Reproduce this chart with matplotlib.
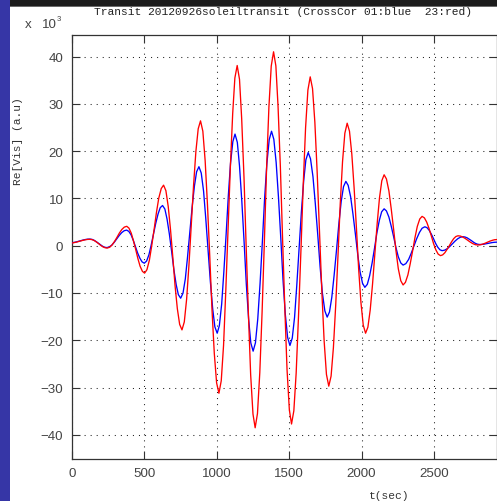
import matplotlib
matplotlib.use("Agg")
import matplotlib.pyplot as plt
from matplotlib.patches import Rectangle

# ---- data ----
t_red = [0, 16, 32, 47, 63, 79, 95, 110,
         126, 141, 156, 171, 186, 200, 215, 230,
         245, 262, 279, 296, 313, 329, 346, 363,
         380, 395, 411, 426, 442, 457, 472, 488,
         503, 519, 536, 552, 569, 585, 601, 618,
         634, 650, 666, 682, 698, 713, 729, 745,
         761, 777, 793, 809, 825, 841, 857, 873,
         889, 905, 921, 937, 953, 968, 984, 1000,
         1016, 1032, 1048, 1063, 1079, 1095, 1111, 1126,
         1142, 1158, 1173, 1189, 1204, 1220, 1235, 1251,
         1266, 1282, 1298, 1314, 1330, 1345, 1361, 1377,
         1393, 1409, 1424, 1440, 1455, 1471, 1486, 1502,
         1517, 1533, 1549, 1565, 1582, 1598, 1614, 1630,
         1646, 1662, 1678, 1694, 1710, 1726, 1742, 1758,
         1774, 1790, 1806, 1822, 1838, 1853, 1869, 1885,
         1901, 1917, 1933, 1949, 1965, 1980, 1996, 2012,
         2028, 2044, 2060, 2076, 2092, 2108, 2124, 2140,
         2156, 2172, 2189, 2205, 2222, 2238, 2254, 2271,
         2287, 2303, 2320, 2336, 2353, 2369, 2385, 2402,
         2418, 2434, 2450, 2466, 2482, 2497, 2513, 2529,
         2545, 2560, 2575, 2590, 2606, 2621, 2636, 2651,
         2666, 2683, 2700, 2717, 2734, 2751, 2768, 2785,
         2802, 2819, 2835, 2852, 2869, 2885, 2902, 2918,
         2935]
v_red = [0.55, 0.64, 0.75, 0.88, 1.02, 1.15, 1.26, 1.33,
         1.35, 1.28, 1.08, 0.78, 0.43, 0.07, -0.23, -0.43,
         -0.50, -0.33, 0.17, 0.92, 1.80, 2.68, 3.43, 3.93,
         4.10, 3.72, 2.65, 1.04, -0.85, -2.74, -4.35, -5.42,
         -5.80, -5.09, -3.08, -0.06, 3.50, 7.06, 10.08, 12.09,
         12.80, 11.64, 8.32, 3.36, -2.50, -8.36, -13.32, -16.64,
         -17.80, -16.12, -11.33, -4.16, 4.30, 12.76, 19.93, 24.72,
         26.40, 24.21, 17.96, 8.62, -2.40, -13.42, -22.76, -29.01,
         -31.20, -28.56, -21.05, -9.81, 3.45, 16.71, 27.95, 35.46,
         38.10, 35.19, 26.88, 14.46, -0.20, -14.86, -27.28, -35.59,
         -38.50, -35.48, -26.86, -13.96, 1.25, 16.46, 29.36, 37.98,
         41.00, 38.01, 29.47, 16.71, 1.65, -13.41, -26.17, -34.71,
         -37.70, -34.91, -26.95, -15.05, -1.00, 13.05, 24.95, 32.91,
         35.70, 33.21, 26.12, 15.51, 3.00, -9.51, -20.12, -27.21,
         -29.70, -27.58, -21.56, -12.54, -1.90, 8.74, 17.76, 23.78,
         25.90, 24.21, 19.40, 12.20, 3.70, -4.80, -12.00, -16.81,
         -18.50, -17.23, -13.59, -8.16, -1.75, 4.66, 10.09, 13.73,
         15.00, 14.11, 11.59, 7.81, 3.35, -1.11, -4.89, -7.41,
         -8.30, -7.75, -6.18, -3.83, -1.05, 1.73, 4.08, 5.65,
         6.20, 5.88, 4.98, 3.64, 2.05, 0.46, -0.88, -1.78,
         -2.10, -1.94, -1.49, -0.80, 0.00, 0.80, 1.49, 1.94,
         2.10, 2.03, 1.81, 1.50, 1.13, 0.75, 0.44, 0.22,
         0.15, 0.19, 0.32, 0.51, 0.73, 0.95, 1.13, 1.26,
         1.30]

t_blue = [0, 16, 32, 47, 63, 79, 95, 110,
          126, 141, 155, 170, 185, 199, 214, 228,
          243, 260, 277, 294, 311, 328, 345, 362,
          379, 394, 410, 425, 440, 455, 471, 486,
          501, 517, 533, 548, 564, 580, 596, 611,
          627, 643, 658, 674, 690, 705, 721, 736,
          752, 768, 784, 799, 815, 831, 847, 862,
          878, 894, 910, 925, 941, 957, 973, 988,
          1004, 1019, 1035, 1050, 1066, 1081, 1096, 1112,
          1127, 1143, 1158, 1174, 1190, 1205, 1221, 1236,
          1252, 1268, 1284, 1300, 1316, 1331, 1347, 1363,
          1379, 1395, 1411, 1427, 1443, 1458, 1474, 1490,
          1506, 1522, 1538, 1553, 1569, 1585, 1601, 1616,
          1632, 1648, 1665, 1681, 1698, 1714, 1730, 1747,
          1763, 1779, 1795, 1811, 1828, 1844, 1860, 1876,
          1892, 1908, 1925, 1941, 1958, 1974, 1990, 2007,
          2023, 2040, 2056, 2073, 2090, 2106, 2123, 2139,
          2156, 2172, 2189, 2205, 2222, 2238, 2254, 2271,
          2287, 2306, 2325, 2343, 2362, 2381, 2400, 2418,
          2437, 2452, 2467, 2482, 2497, 2511, 2526, 2541,
          2556, 2574, 2592, 2610, 2628, 2646, 2664, 2682,
          2700, 2714, 2729, 2743, 2758, 2772, 2786, 2801,
          2815, 2830, 2845, 2860, 2875, 2890, 2905, 2920,
          2935]
v_blue = [0.60, 0.69, 0.80, 0.93, 1.07, 1.20, 1.31, 1.38,
          1.40, 1.33, 1.14, 0.84, 0.50, 0.16, -0.14, -0.33,
          -0.40, -0.26, 0.14, 0.74, 1.45, 2.16, 2.76, 3.16,
          3.30, 3.03, 2.28, 1.14, -0.20, -1.54, -2.68, -3.43,
          -3.70, -3.24, -1.91, 0.07, 2.40, 4.73, 6.71, 8.04,
          8.50, 7.75, 5.63, 2.45, -1.30, -5.05, -8.23, -10.35,
          -11.10, -10.04, -7.03, -2.52, 2.80, 8.12, 12.63, 15.64,
          16.70, 15.36, 11.55, 5.84, -0.90, -7.64, -13.35, -17.16,
          -18.50, -16.90, -12.33, -5.51, 2.55, 10.61, 17.43, 22.00,
          23.60, 21.85, 16.88, 9.43, 0.65, -8.13, -15.58, -20.55,
          -22.30, -20.53, -15.49, -7.95, 0.95, 9.85, 17.39, 22.43,
          24.20, 22.48, 17.57, 10.22, 1.55, -7.12, -14.47, -19.38,
          -21.10, -19.55, -15.13, -8.51, -0.70, 7.11, 13.73, 18.15,
          19.70, 18.38, 14.60, 8.96, 2.30, -4.36, -10.00, -13.78,
          -15.10, -14.01, -10.90, -6.24, -0.75, 4.74, 9.40, 12.51,
          13.60, 12.75, 10.32, 6.69, 2.40, -1.89, -5.52, -7.95,
          -8.80, -8.17, -6.37, -3.68, -0.50, 2.68, 5.37, 7.17,
          7.80, 7.35, 6.06, 4.13, 1.85, -0.43, -2.36, -3.65,
          -4.10, -3.79, -2.91, -1.60, -0.05, 1.50, 2.81, 3.69,
          4.00, 3.81, 3.26, 2.44, 1.48, 0.51, -0.31, -0.86,
          -1.05, -0.94, -0.62, -0.14, 0.43, 0.99, 1.47, 1.79,
          1.90, 1.84, 1.66, 1.39, 1.08, 0.76, 0.49, 0.31,
          0.25, 0.27, 0.32, 0.40, 0.50, 0.60, 0.68, 0.73,
          0.75]

x_ticks = [0, 500, 1000, 1500, 2000, 2500]
x_tick_labels = ["0", "500", "1000", "1500", "2000", "2500"]
y_ticks = [-40, -30, -20, -10, 0, 10, 20, 30, 40]
y_tick_labels = ["\u221240", "\u221230", "\u221220", "\u221210", "0", "10", "20", "30", "40"]

title_text = "Transit 20120926soleiltransit (CrossCor 01:blue  23:red)"
ylabel_text = "Re[Vis] (a.u)"
xlabel_text = "t(sec)"

# ---- figure ----
W, H = 497, 502
fig = plt.figure(figsize=(W / 100, H / 100), dpi=100)
fig.patch.set_facecolor("white")

# window decorations (screenshot frame)
fig.add_artist(Rectangle((0, 0), 10 / W, 1, transform=fig.transFigure,
                         facecolor="#3636a6", edgecolor="none", zorder=0))
fig.add_artist(Rectangle((10 / W, 1 - 8 / H), 1, 8 / H, transform=fig.transFigure,
                         facecolor="#1c1c1c", edgecolor="none", zorder=0))
fig.add_artist(Rectangle((10 / W, 1 - 8 / H), 1, 1.2 / H, transform=fig.transFigure,
                         facecolor="#6a6a6a", edgecolor="none", zorder=0))

left, right = 71.7 / W, 1.0
bottom, top = 1 - 460 / H, 1 - 36 / H
ax = fig.add_axes([left, bottom, right - left, top - bottom])

ax.plot(t_blue, v_blue, color="#0000ff", lw=0.95, zorder=3)
ax.plot(t_red, v_red, color="#ff0000", lw=0.95, zorder=4)

ax.set_xlim(0, 2935)
ax.set_ylim(-45.1, 44.55)

ax.set_xticks(x_ticks)
ax.set_xticklabels(x_tick_labels)
ax.set_yticks(y_ticks)
ax.set_yticklabels(y_tick_labels)

tick_font = "Liberation Sans"
ax.tick_params(axis="both", which="major", direction="in", length=5.5, width=0.8,
               color="#333333", labelsize=9.6, labelcolor="#444444",
               top=True, right=True)
ax.tick_params(axis="x", pad=5.5)
ax.tick_params(axis="y", pad=6)
for lab in ax.get_xticklabels() + ax.get_yticklabels():
    lab.set_fontfamily(tick_font)

for s in ax.spines.values():
    s.set_color("#333333")
    s.set_linewidth(0.9)

ax.grid(True, color="#222222", linestyle=(0, (1, 4.8)), linewidth=0.75)
ax.set_axisbelow(True)

mono = "Liberation Mono"
fig.text(283 / W, 1 - 12 / H, title_text, ha="center", va="center",
         fontsize=8.1, family=mono, color="#222222")
fig.text(18 / W, 1 - 141 / H, ylabel_text, ha="center", va="center",
         rotation=90, fontsize=8.1, family=mono, color="#333333")
fig.text(389 / W, 1 - 496 / H, xlabel_text, ha="center", va="center",
         fontsize=8.1, family=mono, color="#333333")
fig.text(25 / W, 1 - 25 / H, "x", ha="left", va="center",
         fontsize=9.6, family=tick_font, color="#444444")
fig.text(41.5 / W, 1 - 24.6 / H, "10", ha="left", va="center",
         fontsize=9.6, family=tick_font, color="#444444")
fig.text(56.5 / W, 1 - 19.5 / H, "3", ha="left", va="center",
         fontsize=5.5, family=tick_font, color="#444444")

fig.savefig("out.png", dpi=100, facecolor=fig.get_facecolor())
